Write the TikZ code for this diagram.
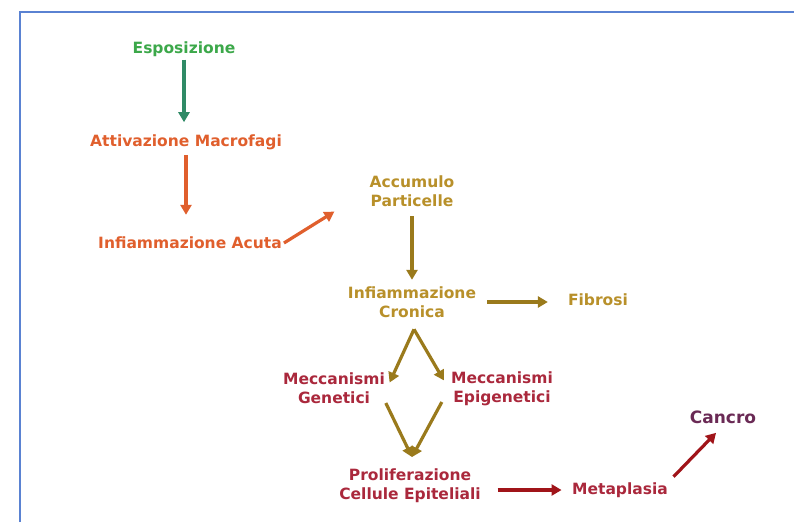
\documentclass[tikz,border=0pt]{standalone}
\usepackage{fontspec}
\setmainfont{DejaVu Sans}
\usetikzlibrary{arrows.meta,positioning}
\definecolor{espgreen}{HTML}{3CA84A}
\definecolor{espteal}{HTML}{2F8A66}
\definecolor{acuteorange}{HTML}{E05F2D}
\definecolor{chronolive}{HTML}{B8902A}
\definecolor{chronarrow}{HTML}{9A7A1C}
\definecolor{mechred}{HTML}{AA283C}
\definecolor{mecharrow}{HTML}{A01419}
\definecolor{cancerplum}{HTML}{6A2A55}
\definecolor{frameblue}{HTML}{5A82D2}
\newcommand{\FlowTextSize}{15.5}

\begin{document}
\begin{tikzpicture}[x=1pt, y=-1pt,
		stage/.style={font=\bfseries\fontsize{\FlowTextSize}{19}\selectfont, align=center, inner sep=2pt},
		flow/.style={line width=3.2pt, -{Triangle[length=10pt,width=11pt]}}]
		\useasboundingbox (0,0) rectangle (794,522);
		\draw [frameblue, line width=1.5pt] (20,522) -- (20,12) -- (794,12);
		% stages of the process
		\node [stage, text=espgreen] (esp) at (184,49) {Esposizione};
		\node [stage, text=acuteorange] (att) at (186,142) {Attivazione Macrofagi};
		\node [stage, text=acuteorange] (acuta) at (190,243) {Infiammazione Acuta};
		\node [stage, text=chronolive] (accum) at (412,191) {Accumulo\\Particelle};
		\node [stage, text=chronolive] (cron) at (412,302) {Infiammazione\\Cronica};
		\node [stage, text=chronolive] (fib) at (598,300) {Fibrosi};
		\node [stage, text=mechred] (gen) at (334,388) {Meccanismi\\Genetici};
		\node [stage, text=mechred] (epi) at (502,389) {Meccanismi\\Epigenetici};
		\node [stage, text=mechred] (prol) at (410,485.5) {Proliferazione\\Cellule Epiteliali};
		\node [stage, text=mechred] (meta) at (620,490) {Metaplasia};
		\node [stage, text=cancerplum, font=\bfseries\fontsize{17}{19}\selectfont] (canc) at (723,417) {Cancro};
		% arrows
		\draw [flow, espteal, shorten <=1pt, shorten >=10pt] (esp.south) -- (esp.south |- att.north);
		\draw [flow, acuteorange, shorten <=3pt, shorten >=20pt] (att.south) -- (att.south |- acuta.north);
		\draw [flow, acuteorange, shorten >=39pt] (acuta.east) -- (accum.west);
		\draw [flow, chronarrow, shorten <=7.5pt, shorten >=4.5pt] (accum.south) -- (cron.north);
		\draw [flow, chronarrow, shorten <=9pt, shorten >=18pt] (cron.east) -- (cron.east -| fib.west);
		\draw [flow, chronarrow, shorten >=6pt] ([xshift=2pt, yshift=-9.6pt]cron.south) -- (gen.east);
		\draw [flow, chronarrow, shorten >=10pt] ([xshift=2pt, yshift=-9.6pt]cron.south) -- (epi.west);
		\draw [flow, chronarrow, shorten <=-3pt] (gen.south east) -- ([xshift=2pt, yshift=9.25pt]prol.north);
		\draw [flow, chronarrow, shorten <=14.8pt] (epi.west) -- ([xshift=2pt, yshift=9.25pt]prol.north);
		\draw [flow, mecharrow, shorten <=14.7pt, shorten >=8.4pt] (prol.east |- meta.west) -- (meta.west);
		\draw [flow, mecharrow, shorten <=5pt, shorten >=10pt] (meta.north east) -- (canc.south);
\end{tikzpicture}
\end{document}
